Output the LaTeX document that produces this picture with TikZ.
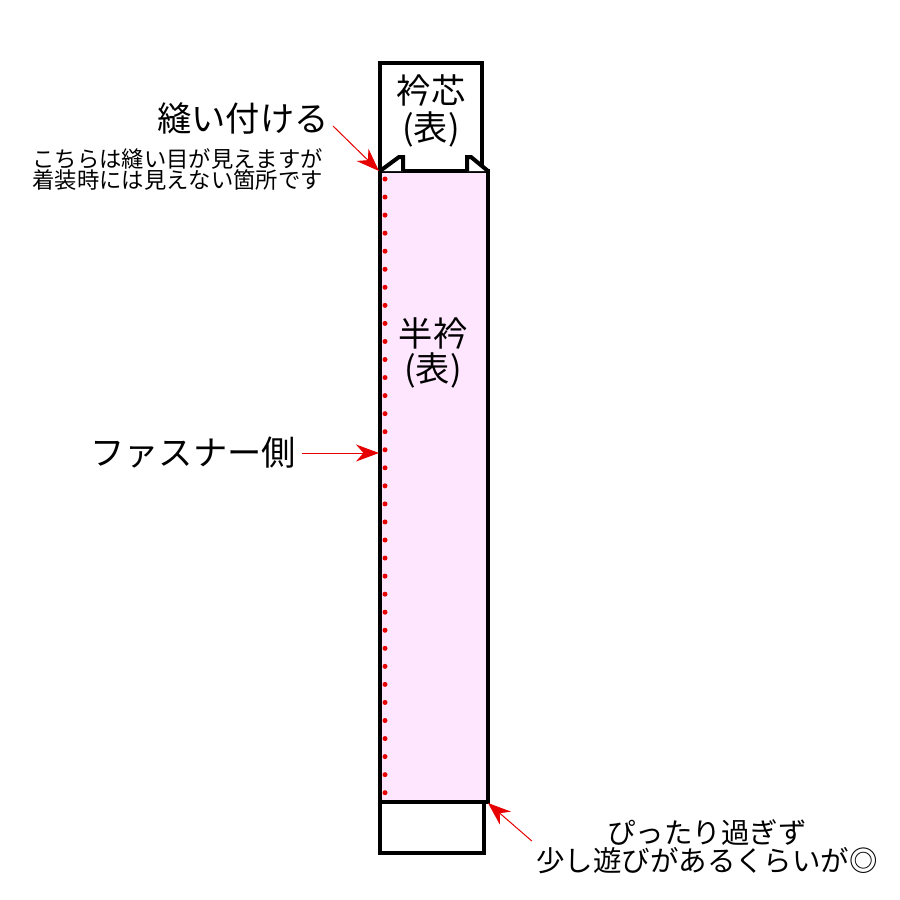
\documentclass[tikz,border=0pt]{standalone}
\usepackage{fontspec}
\setmainfont{Noto Sans CJK JP}
\usetikzlibrary{arrows.meta, positioning}
\usepackage{xcolor}
\definecolor{collarPink}{RGB}{255,230,255}
\definecolor{stitchRed}{RGB}{230,0,0}
\tikzset{
    part/.style={draw=black, line width=0.8mm, line join=miter},
    pointer/.style={draw=stitchRed, line width=0.2mm, -{Stealth[length=4.6mm, width=3.4mm]}},
    bigtext/.style={inner sep=0pt, font=\fontsize{19.5}{20}\selectfont},
    smalltext/.style={inner sep=0pt, align=right, font=\fontsize{12.7}{12}\selectfont},
    midtext/.style={inner sep=0pt, align=center, font=\fontsize{16.2}{16}\selectfont}
}

\begin{document}
\begin{tikzpicture}[x=0.2mm, y=-0.2mm]
    \useasboundingbox (0,0) rectangle (900,900);

    % Draw the collar core on top, then the half collar over it
    \draw[part, fill=white] (380,63) rectangle (482,171);
    \draw[part, fill=collarPink] (380,171) rectangle (488,802);
    \draw[part, fill=white] (380,802) rectangle (484,853);

    % Draw the two little flaps at the top corners
    \draw[part, fill=white] (380,171) -- (399,157) -- (403,157) -- (403,171);
    \draw[part, fill=white] (467,171) -- (467,157) -- (471,157) -- (488,171);

    % Draw the stitching line along the fastener edge
    \foreach \i in {0,...,34}
        \fill[stitchRed] (385,179+18.05*\i) circle[radius=0.5mm];

    \node[bigtext, align=center] (core) at (431,111) {衿芯\\[1pt](表)};
    \node[bigtext, align=center] (half) at (433,353) {半衿\\[0pt](表)};

    \node[bigtext, anchor=east] (sew) at (329,118) {縫い付ける};
    \node[smalltext, anchor=north east] (seen) at (323,148) {こちらは縫い目が見えますが\\着装時には見えない箇所です};
    \node[bigtext, anchor=west] (zip) at (90,453) {ファスナー側};
    \node[midtext] (loose) at (707,847) {ぴったり過ぎず\\少し遊びがあるくらいが◎};

    \coordinate (sewpoint) at (379,171);
    \coordinate (zippoint) at (379,453);
    \coordinate (endpoint) at (488,803);

    % Draw the arrows
    \draw[pointer] ([shift={(4,8)}]sew.east) -- (sewpoint);
    \draw[pointer] ([xshift=3]zip.east) -- (zippoint);
    \draw[pointer] ([shift={(-4,-6)}]loose.west) -- (endpoint);
\end{tikzpicture}
\end{document}
